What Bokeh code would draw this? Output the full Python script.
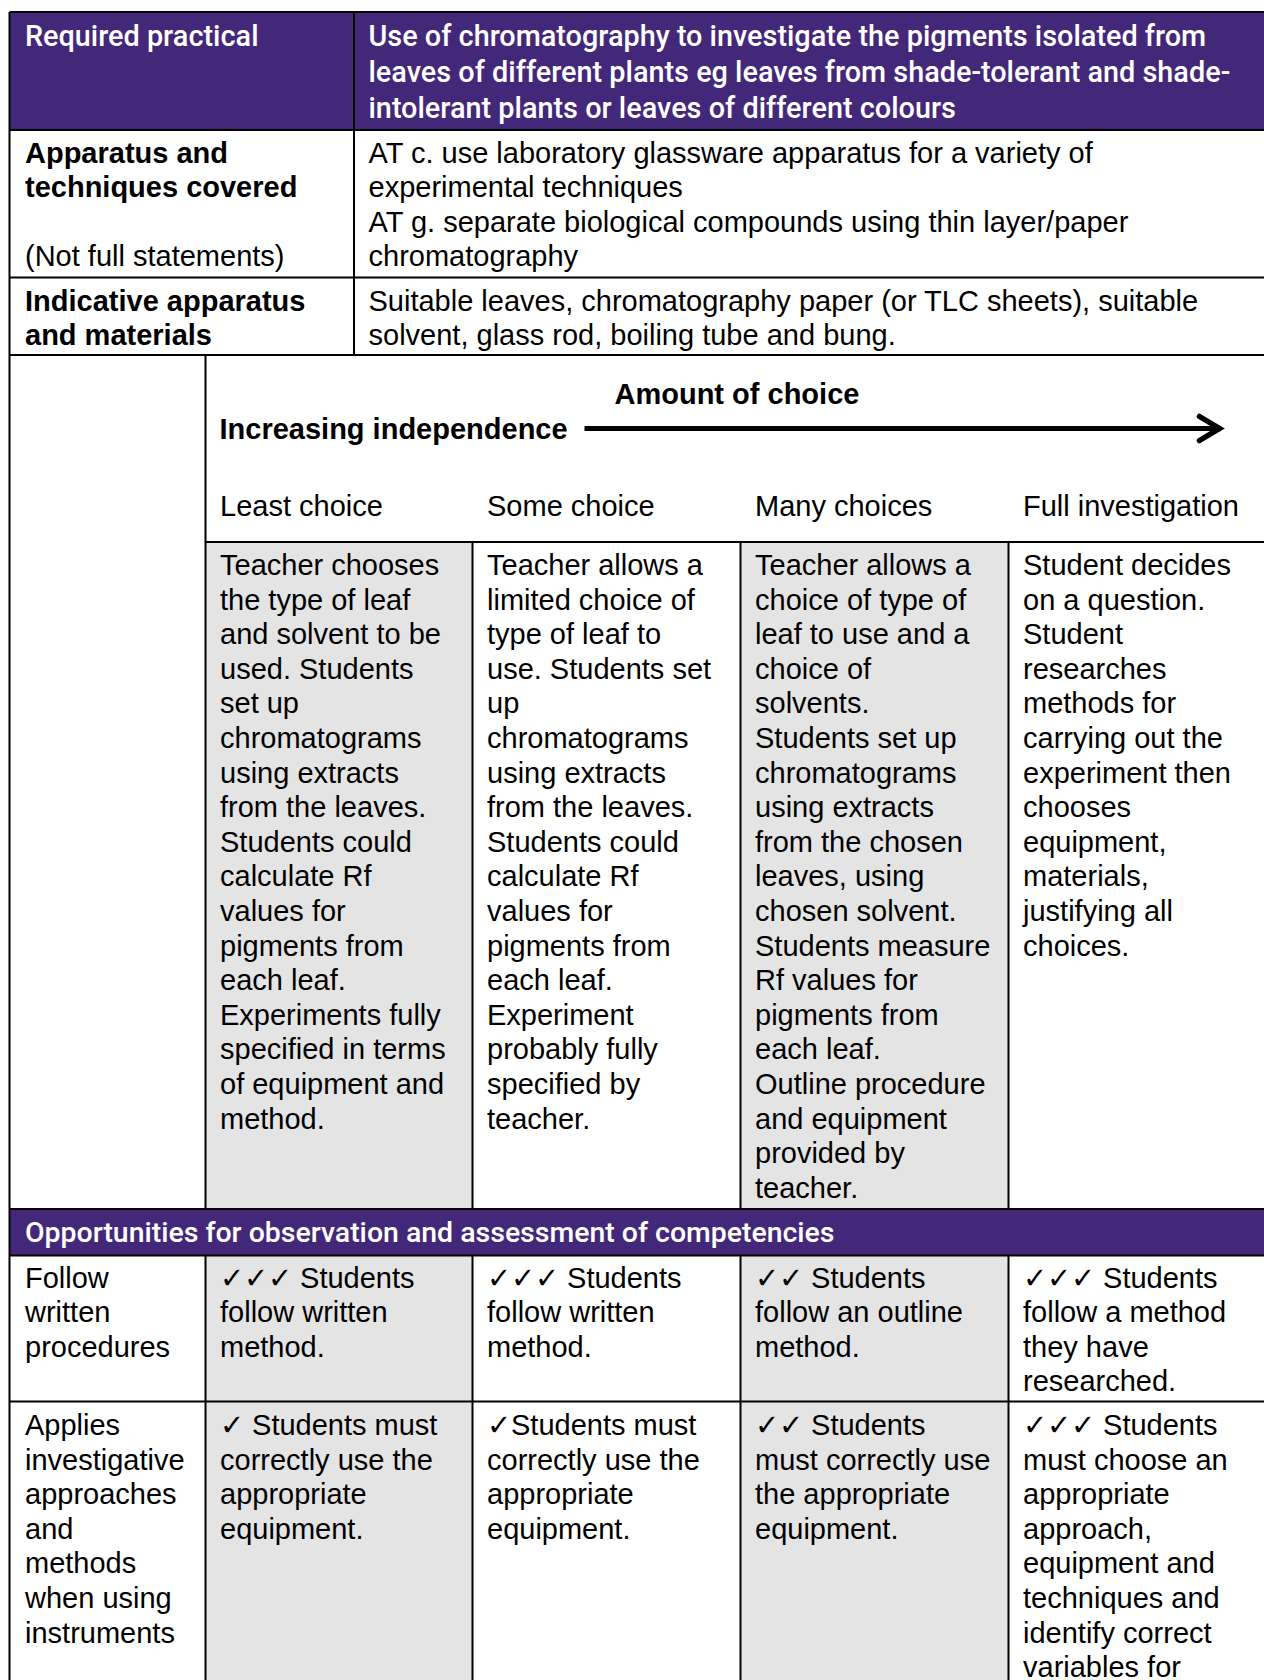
from bokeh.plotting import figure
from bokeh.models import Range1d, ColumnDataSource
from bokeh.embed import file_html
from bokeh.resources import INLINE
from bokeh.core.properties import value

# ---------------- content ----------------
header_label = ["Required practical"]
header_text = [
    "Use of chromatography to investigate the pigments isolated from",
    "leaves of different plants eg leaves from shade-tolerant and shade-",
    "intolerant plants or leaves of different colours",
]
apparatus_label = ["Apparatus and", "techniques covered"]
apparatus_note = ["(Not full statements)"]
apparatus_text = [
    "AT c. use laboratory glassware apparatus for a variety of",
    "experimental techniques",
    "AT g. separate biological compounds using thin layer/paper",
    "chromatography",
]
materials_label = ["Indicative apparatus", "and materials"]
materials_text = [
    "Suitable leaves, chromatography paper (or TLC sheets), suitable",
    "solvent, glass rod, boiling tube and bung.",
]
scale_title = "Amount of choice"
scale_label = "Increasing independence"
choice_levels = ["Least choice", "Some choice", "Many choices", "Full investigation"]
choice_text = [
    ["Teacher chooses", "the type of leaf", "and solvent to be", "used. Students",
     "set up", "chromatograms", "using extracts", "from the leaves.",
     "Students could", "calculate Rf", "values for", "pigments from",
     "each leaf.", "Experiments fully", "specified in terms",
     "of equipment and", "method."],
    ["Teacher allows a", "limited choice of", "type of leaf to", "use. Students set",
     "up", "chromatograms", "using extracts", "from the leaves.",
     "Students could", "calculate Rf", "values for", "pigments from",
     "each leaf.", "Experiment", "probably fully", "specified by", "teacher."],
    ["Teacher allows a", "choice of type of", "leaf to use and a", "choice of",
     "solvents.", "Students set up", "chromatograms", "using extracts",
     "from the chosen", "leaves, using", "chosen solvent.", "Students measure",
     "Rf values for", "pigments from", "each leaf.", "Outline procedure",
     "and equipment", "provided by", "teacher."],
    ["Student decides", "on a question.", "Student", "researches",
     "methods for", "carrying out the", "experiment then", "chooses",
     "equipment,", "materials,", "justifying all", "choices."],
]
band_text = "Opportunities for observation and assessment of competencies"
follow_label = ["Follow", "written", "procedures"]
follow_text = [
    ["\u2713\u2713\u2713 Students", "follow written", "method."],
    ["\u2713\u2713\u2713 Students", "follow written", "method."],
    ["\u2713\u2713 Students", "follow an outline", "method."],
    ["\u2713\u2713\u2713 Students", "follow a method", "they have", "researched."],
]
applies_label = ["Applies", "investigative", "approaches", "and", "methods",
                 "when using", "instruments"]
applies_text = [
    ["\u2713 Students must", "correctly use the", "appropriate", "equipment."],
    ["\u2713Students must", "correctly use the", "appropriate", "equipment."],
    ["\u2713\u2713 Students", "must correctly use", "the appropriate", "equipment."],
    ["\u2713\u2713\u2713 Students", "must choose an", "appropriate", "approach,",
     "equipment and", "techniques and", "identify correct", "variables for"],
]

# ---------------- styling / layout ----------------
PURPLE = "#43287a"
GRAY = "#e4e4e4"
BODY = "Liberation Sans"
HEAD = "Roboto Medium, Roboto"
FS = "29px"
HFS = "28.8px"
BFS = "28.4px"
LH = 34.6
HLH = 36.2

L, R = 9, 1270
col_x = [205, 472, 740, 1008]
text_pad = 14.5

p = figure(width=1264, height=1680, x_range=Range1d(0, 1264), y_range=Range1d(1680, 0),
           output_backend="svg", toolbar_location=None, min_border=0,
           outline_line_color=None, background_fill_color="white")
p.axis.visible = False
p.xgrid.visible = False
p.ygrid.visible = False

# fills
p.quad(left=[L, L], right=[R, R], top=[11.5, 1208.5], bottom=[129.5, 1255],
       fill_color=PURPLE, line_color=None)
gl, gr, gt, gb = [], [], [], []
for ci in (0, 2):
    for (t, b) in ((541.5, 1208.5), (1255, 1690)):
        gl.append(col_x[ci]); gr.append(col_x[ci + 1]); gt.append(t); gb.append(b)
p.quad(left=gl, right=gr, top=gt, bottom=gb, fill_color=GRAY, line_color=None)

# grid lines
hx0, hx1, hy = [], [], []
for y in (11.5, 129.5, 277, 354.5, 1208.5, 1255, 1401):
    hx0.append(L); hx1.append(R); hy.append(y)
hx0.append(col_x[0]); hx1.append(R); hy.append(541.5)
p.segment(x0=hx0, x1=hx1, y0=hy, y1=hy, line_color="black", line_width=2)

vx, vy0, vy1 = [L, 353.5, col_x[0], col_x[0]], [11.5, 11.5, 354.5, 1255], [1690, 354.5, 1208.5, 1690]
for cx in col_x[1:]:
    vx += [cx, cx]; vy0 += [541.5, 1255]; vy1 += [1208.5, 1690]
p.segment(x0=vx, x1=vx, y0=vy0, y1=vy1, line_color="black", line_width=2)

# arrow
p.line(x=[584, 1216], y=[428, 428], line_color="black", line_width=5)
p.line(x=[1199, 1219, 1199], y=[416, 428, 440], line_color="black", line_width=5.5,
       line_cap="round", line_join="miter")


def put(lines, x, y0, step, font=BODY, size=FS, style="normal", color="black"):
    src = ColumnDataSource(dict(x=[x] * len(lines), y=[y0 + i * step for i in range(len(lines))],
                                t=list(lines)))
    p.text(x="x", y="y", text="t", source=src, text_font=value(font), text_font_size=size,
           text_font_style=style, text_color=color, text_align="left", text_baseline="middle")


# header
put(header_label, 24.5, 35.5, HLH, font=HEAD, size=HFS, color="white")
put(header_text, 368, 35.5, HLH, font=HEAD, size=HFS, color="white")
# apparatus row
put(apparatus_label, 24.5, 152, LH, style="bold")
put(apparatus_note, 24.5, 152 + 3 * LH, LH)
put(apparatus_text, 368, 152, LH)
# materials row
put(materials_label, 24.5, 300, LH, style="bold")
put(materials_text, 368, 300, LH)
# scale
put([scale_title], 614, 393, LH, style="bold")
put([scale_label], 219, 428.5, LH, style="bold")
for i, lvl in enumerate(choice_levels):
    put([lvl], col_x[i] + text_pad, 505.5, LH)
for i, lines in enumerate(choice_text):
    put(lines, col_x[i] + text_pad, 564.5, LH)
# band
put([band_text], 24.5, 1232, LH, font=HEAD, size=BFS, color="white")
# follow row
put(follow_label, 24.5, 1277, LH)
for i, lines in enumerate(follow_text):
    put(lines, col_x[i] + text_pad, 1277, LH)
# applies row
put(applies_label, 24.5, 1424.5, LH)
for i, lines in enumerate(applies_text):
    put(lines, col_x[i] + text_pad, 1424.5, LH)

open("out.html", "w").write(file_html(p, INLINE))
